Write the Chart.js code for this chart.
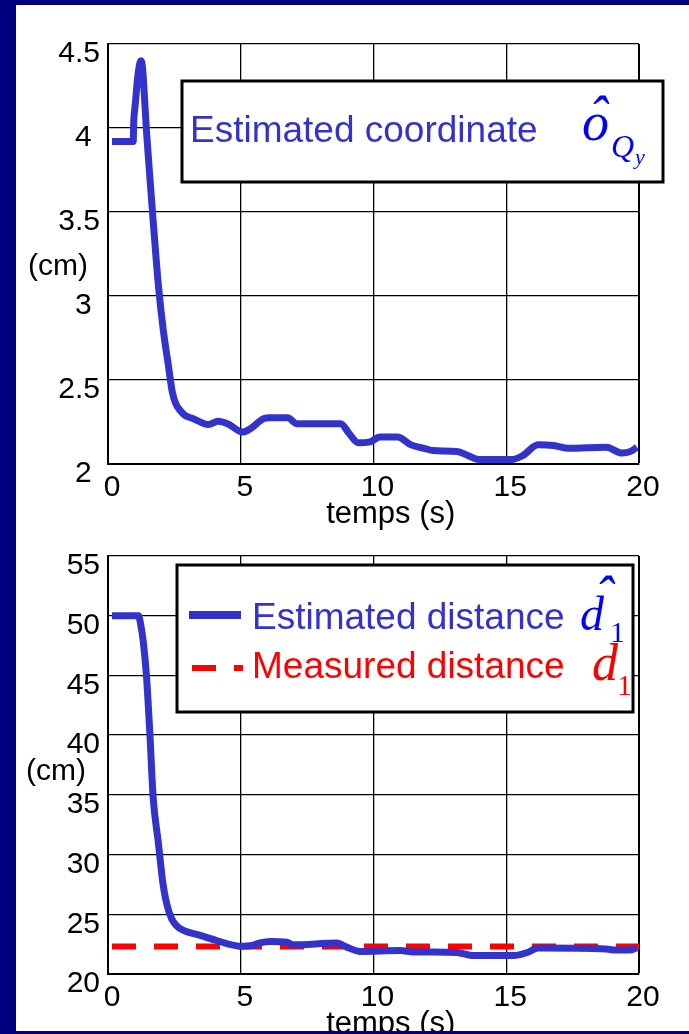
<!DOCTYPE html>
<html>
<head>
<meta charset="utf-8">
<script src="https://cdn.jsdelivr.net/npm/chart.js@4.4.1/dist/chart.umd.min.js"></script>
<style>
  html, body { margin: 0; padding: 0; background: #000080; }
  #page { position: absolute; left: 0; top: 0; width: 689px; height: 1031px; overflow: hidden; }
  #panel { position: absolute; left: 16px; top: 5px; width: 673px; height: 1026px; background: #fff; }
  canvas { position: absolute; left: 0; }
  #chart1 { top: 0; }
  #chart2 { top: 530px; }
</style>
</head>
<body>
<div id="page">
  <div id="panel"></div>
  <canvas id="chart1" width="689" height="533"></canvas>
  <canvas id="chart2" width="689" height="513"></canvas>
</div>
<script>
const timeTicks = [0, 5, 10, 15, 20];
const coordTicks = [2, 2.5, 3, 3.5, 4, 4.5];
const distTicks = [20, 25, 30, 35, 40, 45, 50, 55];

// top plot: estimated coordinate (cm) against time (s)
const coordTime = [
  0.15, 0.95, 0.97, 1.02, 1.14, 1.24, 1.30, 1.36, 1.45, 1.58,
  1.70, 1.90, 2.08, 2.28, 2.42, 2.55, 2.71, 2.90, 3.21, 3.78,
  4.15, 4.50, 5.08, 5.36, 5.86, 6.11, 6.77, 7.10, 8.76, 9.09,
  9.42, 9.83, 10.25, 10.91, 11.41, 11.98, 12.23, 13.14, 13.56, 13.97,
  15.21, 15.62, 16.20, 16.78, 17.36, 18.77, 19.35, 19.68, 19.92,
];
const coordValues = [
  3.92, 3.92, 4.04, 4.13, 4.33, 4.40, 4.36, 4.22, 3.98, 3.70,
  3.45, 3.06, 2.80, 2.58, 2.43, 2.36, 2.32, 2.29, 2.27, 2.235,
  2.255, 2.24, 2.19, 2.21, 2.27, 2.276, 2.276, 2.24, 2.24, 2.18,
  2.126, 2.13, 2.16, 2.16, 2.114, 2.09, 2.08, 2.075, 2.05, 2.027,
  2.027, 2.05, 2.114, 2.11, 2.094, 2.10, 2.065, 2.075, 2.10,
];

// bottom plot: estimated and measured distance (cm)
const distTime = [
  0.15, 1.15, 1.22, 1.33, 1.45, 1.58, 1.70, 1.89, 2.08, 2.22,
  2.40, 2.60, 2.84, 3.47, 4.09, 4.97, 5.44, 5.72, 6.10, 6.73,
  6.98, 8.61, 8.99, 9.50, 11.00, 11.50, 13.13, 13.71, 15.29, 15.79,
  16.20, 18.76, 19.10, 19.68, 19.92,
];
const distValues = [
  50, 50, 49.4, 47.8, 44.9, 40.0, 34.8, 31.1, 27.4, 25.8,
  24.6, 24.0, 23.65, 23.23, 22.8, 22.33, 22.4, 22.6, 22.73, 22.67,
  22.44, 22.6, 22.25, 21.89, 21.97, 21.85, 21.8, 21.55, 21.55, 21.8,
  22.17, 22.1, 22.0, 22.0, 22.2,
];
const measuredTime = [0.15, 20];
const measuredValues = [22.3, 22.3];

const BLUE = "#3333cc";
const RED = "#ff0000";
const FONT = "'Liberation Sans', Arial, sans-serif";
const MATH = "'Liberation Serif', 'Times New Roman', serif";

function points(xs, ys) {
  return xs.map((x, i) => ({ x: x, y: ys[i] }));
}

function axes(yTicks, yLabel) {
  return {
    x: {
      type: "linear",
      min: timeTicks[0],
      max: timeTicks[timeTicks.length - 1],
      afterBuildTicks: (s) => { s.ticks = timeTicks.map((v) => ({ value: v })); },
      afterFit: (s) => { s.height = 69; },
      border: { color: "#000", width: 2 },
      grid: {
        color: "#000",
        drawTicks: false,
        lineWidth: (c) => (c.index === timeTicks.length - 1 ? 2 : 1.3),
      },
      ticks: {
        color: "#000",
        font: { family: FONT, size: 30 },
        padding: 6,
        labelOffset: 4,
        maxRotation: 0,
        autoSkip: false,
      },
      title: {
        display: true,
        text: "    temps (s)",
        color: "#000",
        font: { family: FONT, size: 31 },
        padding: 0,
      },
    },
    y: {
      type: "linear",
      min: yTicks[0],
      max: yTicks[yTicks.length - 1],
      afterBuildTicks: (s) => { s.ticks = yTicks.map((v) => ({ value: v })); },
      afterFit: (s) => { s.width = 108; },
      border: { color: "#000", width: 2 },
      grid: { color: "#000", drawTicks: false, lineWidth: 1.3 },
      ticks: {
        color: "#000",
        font: { family: FONT, size: 30 },
        padding: 8,
        labelOffset: 10,
        autoSkip: false,
        callback: yLabel,
      },
    },
  };
}

// legend box, unit label and math symbols
const notesPlugin = {
  id: "notes",
  afterDraw(chart, args, opts) {
    const ctx = chart.ctx;
    ctx.save();
    ctx.font = "30px " + FONT;
    ctx.fillStyle = "#000";
    ctx.textAlign = "center";
    ctx.textBaseline = "middle";
    ctx.fillText(opts.unit, opts.unitX, opts.unitY);

    const b = opts.box;
    ctx.fillStyle = "#fff";
    ctx.fillRect(b.x, b.y, b.w, b.h);
    ctx.lineWidth = 3;
    ctx.strokeStyle = "#000";
    ctx.strokeRect(b.x, b.y, b.w, b.h);

    opts.rows.forEach((row) => {
      const ds = chart.data.datasets[row.dataset];
      if (row.sample) {
        ctx.strokeStyle = ds.borderColor;
        ctx.lineWidth = row.sample.width;
        ctx.setLineDash(ds.borderDash || []);
        ctx.beginPath();
        ctx.moveTo(row.sample.x0, row.sample.y);
        ctx.lineTo(row.sample.x1, row.sample.y);
        ctx.stroke();
        ctx.setLineDash([]);
      }
      ctx.textAlign = "left";
      ctx.textBaseline = "alphabetic";
      ctx.fillStyle = ds.borderColor;
      ctx.font = "37px " + FONT;
      ctx.fillText(ds.label, row.x, row.y);

      ctx.fillStyle = row.mathColor;
      row.math.forEach((m) => {
        ctx.font = (m.upright ? "" : "italic ") + m.size + "px " + MATH;
        ctx.textAlign = m.center ? "center" : "left";
        ctx.fillText(m.text, m.x, m.y);
      });
    });
    ctx.restore();
  },
};

const config1 = {
  type: "line",
  data: {
    datasets: [
      {
        label: "Estimated coordinate",
        data: points(coordTime, coordValues),
        borderColor: BLUE,
        borderWidth: 7,
        pointRadius: 0,
        cubicInterpolationMode: "monotone",
        borderJoinStyle: "round",
      },
    ],
  },
  options: {
    responsive: false,
    animation: false,
    layout: { padding: { top: 44, right: 50, left: 0, bottom: 0 } },
    scales: axes(coordTicks, (v) => (Number.isInteger(v) ? v + "\u2008" : String(v))),
    plugins: {
      legend: { display: false },
      tooltip: { enabled: false },
      notes: {
        unit: "(cm)",
        unitX: 58,
        unitY: 267,
        box: { x: 182, y: 81, w: 481, h: 101 },
        rows: [
          {
            dataset: 0,
            x: 190,
            y: 142,
            mathColor: "#0000ff",
            math: [
              { text: "o", size: 54, x: 582, y: 140 },
              { text: "\u02C6", size: 54, x: 598, y: 134, center: true },
              { text: "Q", size: 32, x: 611, y: 157 },
              { text: "y", size: 22, x: 635, y: 164 },
            ],
          },
        ],
      },
    },
  },
  plugins: [notesPlugin],
};

new Chart(document.getElementById("chart1"), config1);

const config2 = {
  type: "line",
  data: {
    datasets: [
      {
        label: "Estimated distance",
        data: points(distTime, distValues),
        borderColor: BLUE,
        borderWidth: 7,
        pointRadius: 0,
        cubicInterpolationMode: "monotone",
        borderJoinStyle: "round",
      },
      {
        label: "Measured distance",
        data: points(measuredTime, measuredValues),
        borderColor: RED,
        borderWidth: 6,
        borderDash: [24, 18],
        pointRadius: 0,
      },
    ],
  },
  options: {
    responsive: false,
    animation: false,
    layout: { padding: { top: 24, right: 50, left: 0, bottom: 0 } },
    scales: axes(distTicks, (v) => String(v)),
    plugins: {
      legend: { display: false },
      tooltip: { enabled: false },
      notes: {
        unit: "(cm)",
        unitX: 56,
        unitY: 242,
        box: { x: 177, y: 35, w: 456, h: 147 },
        rows: [
          {
            dataset: 0,
            x: 252,
            y: 99,
            sample: { x0: 189, x1: 241, y: 85, width: 8 },
            mathColor: "#0000ff",
            math: [
              { text: "d", size: 48, x: 580, y: 100 },
              { text: "\u02C6", size: 54, x: 604, y: 84, center: true },
              { text: "1", size: 30, x: 610, y: 112, upright: true },
            ],
          },
          {
            dataset: 1,
            x: 252,
            y: 148,
            sample: { x0: 192, x1: 243, y: 138, width: 6 },
            mathColor: RED,
            math: [
              { text: "d", size: 52, x: 592, y: 150 },
              { text: "1", size: 30, x: 617, y: 165, upright: true },
            ],
          },
        ],
      },
    },
  },
  plugins: [notesPlugin],
};

new Chart(document.getElementById("chart2"), config2);
</script>
</body>
</html>
